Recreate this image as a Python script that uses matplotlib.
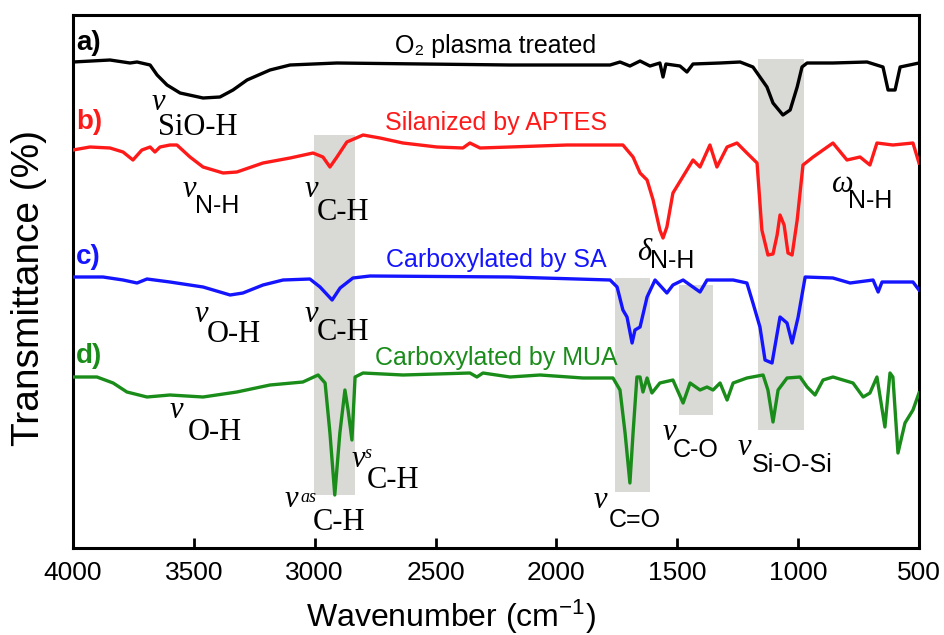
import matplotlib
matplotlib.use("Agg")
import matplotlib.pyplot as plt

plt.rcParams["font.family"] = ["Liberation Sans", "DejaVu Sans"]
plt.rcParams["mathtext.fontset"] = "custom"
plt.rcParams["mathtext.rm"] = "Liberation Sans"
plt.rcParams["mathtext.it"] = "Liberation Sans:italic"

SANS = ["Liberation Sans", "DejaVu Sans"]
SERIF = ["Liberation Serif", "DejaVu Serif"]

# ---------------- spectra (wavenumber, transmittance a.u.) ----------------
wn_a = [4000, 3847, 3764, 3735, 3681, 3652, 3611, 3557, 3462, 3392, 3338, 3280,
        3185, 3102, 2908, 2192, 1778, 1737, 1696, 1654, 1613, 1572, 1559, 1547,
        1489, 1460, 1435, 1323, 1240, 1187, 1129, 1104, 1063, 1033, 1004, 984,
        963, 856, 715, 649, 628, 599, 578, 500]
t_a = [486, 488, 485, 486, 483, 473, 463, 455, 450, 451, 458, 468,
       478, 483, 485, 483, 483, 486, 482, 487, 482, 485, 471, 484,
       482, 476, 484, 485, 486, 481, 461, 445, 433, 438, 461, 481,
       485, 485, 486, 481, 458, 458, 481, 485]

wn_b = [4000, 3930, 3847, 3793, 3752, 3715, 3681, 3661, 3640, 3599, 3570, 3516,
        3462, 3379, 3322, 3214, 3102, 3007, 2966, 2937, 2908, 2867, 2800, 2730,
        2635, 2494, 2387, 2358, 2316, 2192, 1956, 1725, 1683, 1654, 1625, 1600,
        1572, 1559, 1543, 1518, 1460, 1435, 1406, 1365, 1336, 1294, 1253, 1212,
        1170, 1150, 1125, 1104, 1087, 1075, 1058, 1042, 1025, 1004, 980, 938,
        856, 798, 744, 703, 674, 608, 525, 500]
t_b = [398, 401, 400, 396, 388, 398, 401, 396, 401, 403, 403, 391,
       381, 375, 376, 385, 390, 395, 391, 381, 391, 406, 413, 410,
       405, 401, 400, 405, 400, 401, 403, 403, 391, 375, 368, 348,
       318, 310, 321, 355, 378, 388, 381, 403, 381, 401, 405, 395,
       385, 318, 293, 294, 313, 333, 323, 295, 293, 328, 383, 391,
       405, 388, 391, 383, 405, 403, 405, 385]

wn_c = [4000, 3876, 3793, 3735, 3694, 3599, 3462, 3350, 3297, 3214, 3131, 3020,
        2978, 2928, 2895, 2842, 2771, 2192, 1778, 1749, 1725, 1708, 1687, 1675,
        1654, 1625, 1592, 1543, 1518, 1476, 1447, 1406, 1377, 1269, 1212, 1187,
        1158, 1137, 1108, 1075, 1046, 1025, 1000, 971, 856, 785, 690, 669,
        653, 525, 500]
t_c = [271, 271, 268, 265, 269, 266, 261, 253, 255, 263, 268, 269,
       261, 248, 260, 270, 272, 271, 268, 261, 238, 231, 205, 218,
       221, 251, 268, 255, 263, 268, 263, 256, 268, 268, 265, 245,
       221, 188, 185, 231, 225, 205, 231, 271, 270, 265, 268, 256,
       266, 266, 258]

wn_d = [4000, 3901, 3834, 3777, 3694, 3599, 3462, 3322, 3185, 3049, 2986, 2957,
        2937, 2917, 2896, 2875, 2862, 2846, 2833, 2800, 2635, 2358, 2329, 2304,
        2192, 2068, 1890, 1766, 1737, 1716, 1696, 1683, 1667, 1654, 1642, 1625,
        1605, 1572, 1518, 1476, 1447, 1406, 1377, 1352, 1323, 1294, 1269, 1212,
        1145, 1125, 1104, 1083, 1046, 992, 963, 930, 897, 856, 773, 731,
        703, 674, 641, 620, 608, 587, 558, 525, 500]
t_d = [171, 171, 165, 156, 151, 153, 151, 156, 163, 166, 173, 165,
       115, 53, 115, 158, 138, 108, 171, 175, 173, 175, 171, 175,
       171, 173, 170, 170, 158, 115, 65, 115, 171, 171, 156, 170,
       155, 165, 168, 145, 165, 158, 161, 158, 165, 148, 165, 170,
       173, 158, 126, 158, 170, 171, 161, 153, 168, 171, 165, 151,
       155, 171, 121, 175, 171, 95, 125, 138, 155]

spectra = [(wn_a, t_a, "#000000"), (wn_b, t_b, "#ff1a1a"),
           (wn_c, t_c, "#1414ff"), (wn_d, t_d, "#1a8c1a")]

# shaded bands: (wn high, wn low, T bottom, T top)
band_hi = [3005, 1165, 1758, 1493]
band_lo = [2835, 975, 1613, 1352]
band_bot = [53, 118, 56, 133]
band_top = [413, 489, 270, 263]

# panel letters and titles
letters = ["a)", "b)", "c)", "d)"]
letter_y = [505, 426, 291, 192]
titles = ["O₂ plasma treated", "Silanized by APTES",
          "Carboxylated by SA", "Carboxylated by MUA"]
title_y = [495, 418, 281, 183]
colors = ["#000000", "#ff1a1a", "#1414ff", "#1a8c1a"]

# peak labels: symbol, subscript, superscript and their anchor points
lab_sym = ["v", "v", "v", "ω", "δ", "v", "v", "v", "v", "v", "v", "v", "v"]
lab_sub = ["SiO-H", "N-H", "C-H", "N-H", "N-H", "O-H", "C-H", "O-H",
           "C-H", "C-H", "C-O", "Si-O-Si", "C=O"]
lab_sup = ["", "", "", "", "", "", "", "", "s", "as", "", "", ""]
lab_serif = [True, False, True, False, False, True, True, True,
             True, True, False, False, False]
sym_x = [3673, 3545, 3040, 860, 1667, 3495, 3040, 3599, 2846, 3123, 1559, 1249, 1845]
sym_y = [438, 351, 351, 356, 288, 226, 226, 130, 81, 41, 108, 93, 40]
sub_x = [3648, 3495, 2990, 794, 1613, 3446, 2990, 3524, 2784, 3007, 1518, 1191, 1785]
sub_y = [413, 335, 328, 340, 280, 206, 208, 108, 60, 18, 91, 76, 21]
sup_x = [0, 0, 0, 0, 0, 0, 0, 0, 2792, 3061, 0, 0, 0]
sup_y = [0, 0, 0, 0, 0, 0, 0, 0, 90, 46, 0, 0, 0]

fig = plt.figure(figsize=(9.44, 6.35), dpi=100)
ax = fig.add_axes([73 / 944, 1 - 548 / 635, 846 / 944, 533 / 635])

for hi, lo, b, t in zip(band_hi, band_lo, band_bot, band_top):
    ax.fill_between([lo, hi], b, t, color="#d9d9d6", lw=0, zorder=1)

for wn, t, c in spectra:
    ax.plot(wn, t, color=c, lw=2.4, zorder=3, solid_joinstyle="round")

for s, y, c in zip(letters, letter_y, colors):
    ax.text(3988, y, s, color=c, fontsize=20, fontweight="bold",
            ha="left", va="center", zorder=4)
for s, y, c in zip(titles, title_y, colors):
    ax.text(2250, y, s, color=c, fontsize=18, ha="center", va="baseline", zorder=4)

for i in range(len(lab_sym)):
    ax.text(sym_x[i], sym_y[i], lab_sym[i], family=SERIF, style="italic",
            fontsize=22, ha="left", va="baseline", zorder=4)
    if lab_serif[i]:
        ax.text(sub_x[i], sub_y[i], lab_sub[i], family=SERIF, fontsize=22,
                ha="left", va="baseline", zorder=4)
    else:
        ax.text(sub_x[i], sub_y[i], lab_sub[i], family=SANS, fontsize=18,
                ha="left", va="baseline", zorder=4)
    if lab_sup[i]:
        ax.text(sup_x[i], sup_y[i], lab_sup[i], family=SERIF, style="italic",
                fontsize=13, ha="left", va="baseline", zorder=4)

ax.set_xlim(4000, 500)
ax.set_ylim(0, 533)
ax.set_xticks([4000, 3500, 3000, 2500, 2000, 1500, 1000, 500])
ax.set_yticks([])
ax.tick_params(axis="x", direction="in", length=7, width=2, labelsize=19, pad=9)
for sp in ax.spines.values():
    sp.set_linewidth(2.2)
ax.set_xlabel("Wavenumber (cm$^{-1}$)", fontsize=23)
ax.xaxis.set_label_coords(0.447, -0.094)
ax.xaxis.label.set_va("top")
ax.set_ylabel("Transmittance (%)", fontsize=28)
ax.yaxis.set_label_coords(-0.031, 0.488)

fig.savefig("out.png", dpi=100)
